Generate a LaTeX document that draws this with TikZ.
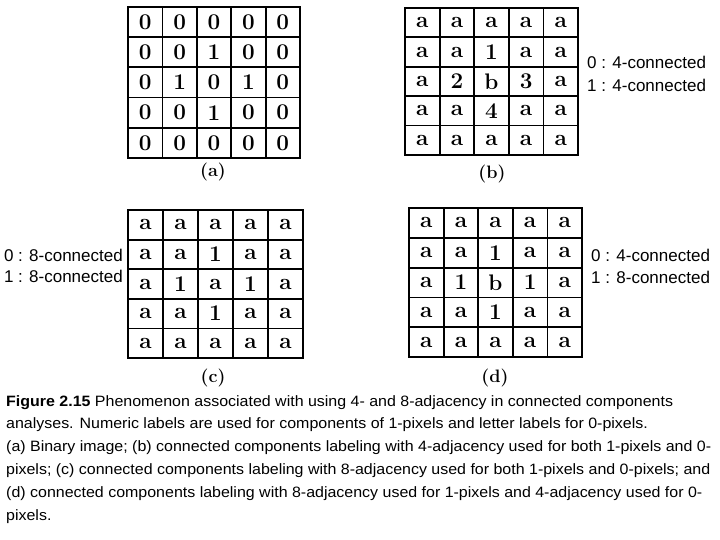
\documentclass[tikz,border=0pt]{standalone}
\usepackage{fontspec}
\newfontfamily\sidefont{Liberation Sans}
\newfontfamily\capfont{Liberation Sans}[FakeStretch=1.065]
\tikzset{
  gl/.style={line width=1.8pt, black, line cap=rect},
  cell/.style={inner sep=0pt, font=\fontsize{22.5}{22.5}\selectfont\bfseries},
  sublabel/.style={inner sep=0pt, font=\fontsize{18}{18}\selectfont\bfseries},
  sidetext/.style={inner sep=0pt, font=\sidefont\fontsize{17}{17}\selectfont},
  captext/.style={inner sep=0pt, anchor=base west, font=\capfont\fontsize{15}{15}\selectfont}
}
\newcommand{\pixgrid}[6]{%
  \pgfmathsetmacro{\gcw}{(#4-#2)/5}%
  \pgfmathsetmacro{\gch}{(#5-#3)/5}%
  \foreach \k in {0,...,5} {
    \draw[gl] ({#2+\k*\gcw},#3) -- ({#2+\k*\gcw},#5);
    \draw[gl] (#2,{#3+\k*\gch}) -- (#4,{#3+\k*\gch});
  }
  \foreach \row [count=\ri] in {#6} {
    \foreach \v [count=\ci] in \row {
      \node[cell] (#1\ri\ci) at ({#2+(\ci-0.5)*\gcw},{#3+(\ri-0.5)*\gch}) {\v};
    }
  }
}
\begin{document}
\begin{tikzpicture}[x=1pt,y=-1pt]
\useasboundingbox[fill=white] (0,0) rectangle (720,540);
% (a)
\pixgrid{a}{128}{7}{300}{158}{{0,0,0,0,0},{0,0,1,0,0},{0,1,0,1,0},{0,0,1,0,0},{0,0,0,0,0}}
\node[sublabel] (la) at (213,172) {(a)};
% (b)
\pixgrid{b}{405}{8}{578}{155}{{a,a,a,a,a},{a,a,1,a,a},{a,2,b,3,a},{a,a,4,a,a},{a,a,a,a,a}}
\node[sublabel] (lb) at (492,174) {(b)};
\node[sidetext, anchor=base west] (tb0) at (587,69) {0 : 4-connected};
\node[sidetext, anchor=base west] (tb1) at (587,92) {1 : 4-connected};
% (c)
\pixgrid{c}{128}{210}{303}{358}{{a,a,a,a,a},{a,a,1,a,a},{a,1,a,1,a},{a,a,1,a,a},{a,a,a,a,a}}
\node[sublabel] (lc) at (213,378) {(c)};
\node[sidetext, anchor=base east] (tc0) at (123,261) {0 : 8-connected};
\node[sidetext, anchor=base east] (tc1) at (123,282) {1 : 8-connected};
% (d)
\pixgrid{d}{409}{208}{582}{357}{{a,a,a,a,a},{a,a,1,a,a},{a,1,b,1,a},{a,a,1,a,a},{a,a,a,a,a}}
\node[sublabel] (ld) at (495,378) {(d)};
\node[sidetext, anchor=base west] (td0) at (591,261) {0 : 4-connected};
\node[sidetext, anchor=base west] (td1) at (591,283) {1 : 8-connected};
% caption
\node[captext] (c1) at (6,406) {\textbf{Figure 2.15} Phenomenon associated with using 4- and 8-adjacency in connected components};
\node[captext] (c2) at (6,428) {analyses. Numeric labels are used for components of 1-pixels and letter labels for 0-pixels.};
\node[captext] (c3) at (6,451) {(a) Binary image; (b) connected components labeling with 4-adjacency used for both 1-pixels and 0-};
\node[captext] (c4) at (6,474) {pixels; (c) connected components labeling with 8-adjacency used for both 1-pixels and 0-pixels; and};
\node[captext] (c5) at (6,497) {(d) connected components labeling with 8-adjacency used for 1-pixels and 4-adjacency used for 0-};
\node[captext] (c6) at (6,520) {pixels.};
\end{tikzpicture}
\end{document}
